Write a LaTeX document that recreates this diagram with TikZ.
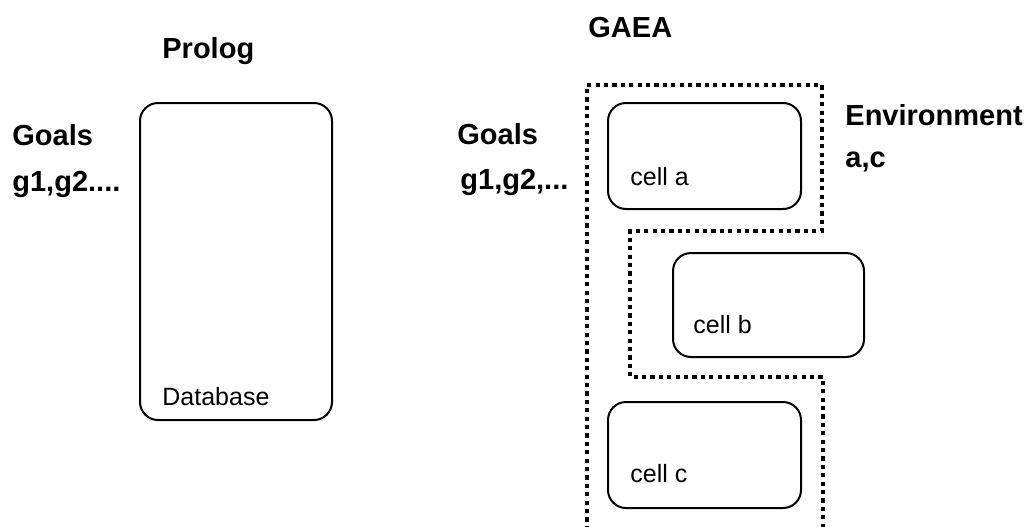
\documentclass[tikz,border=0pt]{standalone}
\usepackage{fontspec}
\setmainfont{Liberation Sans}
\begin{document}
\begin{tikzpicture}[x=0.5pt,y=-0.5pt,
  box/.style={draw, line width=1pt, rounded corners=9pt, inner sep=0pt},
  head/.style={anchor=base west, inner sep=0pt, font=\fontsize{14.5}{17}\selectfont\bfseries},
  lbl/.style={anchor=base west, inner sep=0pt, font=\fontsize{12.5}{15}\selectfont},
  border/.style={line width=2.1pt, dash pattern=on 2.1pt off 2.1pt}]
\useasboundingbox (0,0) rectangle (1027,526);

% Prolog side
\node[head] (prologtitle) at (162,58) {Prolog};
\node[head] (goalsL) at (12,145) {Goals};
\node[head] (goalslistL) at (12,191) {g1,g2....};
\node[box, minimum width=96pt, minimum height=158.5pt] (prolog) at (236,261.5) {};
\node[lbl] (db) at (162,405) {Database};

% GAEA side
\node[head] (gaeatitle) at (588,37) {GAEA};
\node[head] (goalsR) at (457,144) {Goals};
\node[head] (goalslistR) at (460,189) {g1,g2,...};
\node[head] (env) at (845,125) {Environment};
\node[head] (envlist) at (845,167) {a,c};

\node[box, minimum width=96.5pt, minimum height=53pt] (cella) at (704.5,156) {};
\node[lbl] at (630,185) {cell a};
\node[box, minimum width=95.5pt, minimum height=52pt] (cellb) at (768.5,305) {};
\node[lbl] at (693,333) {cell b};
\node[box, minimum width=96.5pt, minimum height=53pt] (cellc) at (704.5,455) {};
\node[lbl] at (630,482) {cell c};

% environment boundary around cells a and c
\draw[border] (587,530) -- (587,85) -- (822,85) -- (822,231) -- (630,231)
  -- (630,377) -- (823,377) -- (823,530);
\end{tikzpicture}
\end{document}
